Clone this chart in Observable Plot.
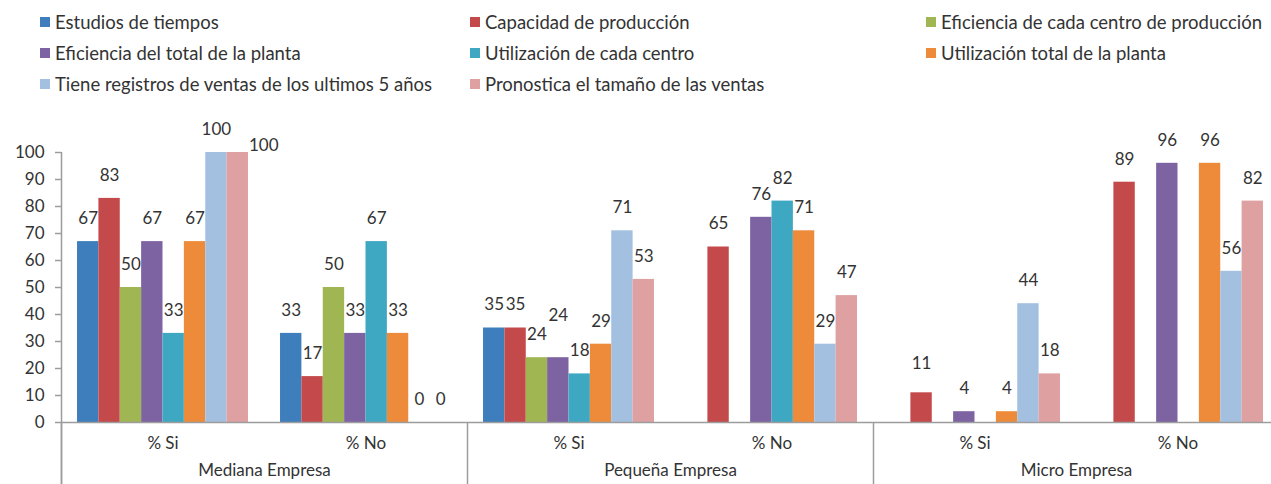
<!DOCTYPE html>
<html>
<head>
<meta charset="utf-8">
<script src="https://cdn.jsdelivr.net/npm/d3@7"></script>
<script src="https://cdn.jsdelivr.net/npm/@observablehq/plot@0.6"></script>
<style>
html, body { margin: 0; padding: 0; background: #fff; overflow: hidden; }
body { width: 1271px; height: 484px; font-family: Lato, sans-serif; }
#legend { position: relative; height: 100px; width: 1271px; }
.item { position: absolute; display: flex; align-items: center; font-size: 18.5px; color: #333; white-space: nowrap; line-height: 22px; transform: translateY(-50%); }
.sw { width: 10px; height: 10px; margin-right: 5px; flex: none; }
</style>
</head>
<body>
<div id="legend"></div>
<div id="chart"></div>
<script>
// ---- data ----
const series = [
  "Estudios de tiempos",
  "Capacidad de producción",
  "Eficiencia de cada centro de producción",
  "Eficiencia del total de la planta",
  "Utilización de cada centro",
  "Utilización total de la planta",
  "Tiene registros de ventas de los ultimos 5 años",
  "Pronostica el tamaño de las ventas"
];
const colors = ["#3e7ebd", "#c4494a", "#a0b653", "#7e63a3", "#3ea7c1", "#ee8b3a", "#a4c0e0", "#dea0a0"];
const empresas = ["Mediana Empresa", "Pequeña Empresa", "Micro Empresa"];
const answers = ["% Si", "% No"];

const medianaSi  = [67, 83, 50, 67, 33, 67, 100, 100];
const medianaNo  = [33, 17, 50, 33, 67, 33, 0, 0];
const pequenaSi  = [35, 35, 24, 24, 18, 29, 71, 53];
const pequenaNo  = [null, 65, null, 76, 82, 71, 29, 47];
const microSi    = [null, 11, null, 4, null, 4, 44, 18];
const microNo    = [null, 89, null, 96, null, 96, 56, 82];

const yTicks = [0, 10, 20, 30, 40, 50, 60, 70, 80, 90, 100];

// ---- build table ----
const clusters = [medianaSi, medianaNo, pequenaSi, pequenaNo, microSi, microNo];
const rows = [];
clusters.forEach((vals, c) => vals.forEach((v, s) => {
  if (v != null) rows.push({c, s, v, series: series[s]});
}));
const clusterLabels = clusters.map((_, c) => ({c, label: answers[c % 2]}));
const groupLabels = empresas.map((name, g) => ({g, name}));

// Excel-style clustered layout: 8 bars + gap of 1.5 bar widths per cluster
const slots = series.length + 1.5;
const bx = d => d.c + (d.s - (series.length - 1) / 2) / slots;
const half = 0.5 / slots;

// label nudges (Excel moved a few labels)
const nudged = [
  {c: 0, s: 7, dx: 26, dy: -7},
  {c: 2, s: 3, dx: 0, dy: -42},
  {c: 4, s: 1, dx: 0, dy: -29}
];
const isNudged = d => nudged.some(n => n.c === d.c && n.s === d.s);

// ---- legend ----
const legend = document.getElementById("legend");
const colX = [40, 470, 926];
const rowY = [22, 53, 84];
series.forEach((name, i) => {
  const el = document.createElement("div");
  el.className = "item";
  el.style.left = colX[i % 3] + "px";
  el.style.top = rowY[Math.floor(i / 3)] + "px";
  el.innerHTML = `<span class="sw" style="background:${colors[i]}"></span><span>${name}</span>`;
  legend.appendChild(el);
});

// ---- chart ----
const axisGray = "#9c9c9c";
const textColor = "#333";
const chart = Plot.plot({
  width: 1271,
  height: 384,
  marginTop: 52,
  marginBottom: 62,
  marginLeft: 61,
  marginRight: -8,
  x: {type: "linear", domain: [-0.5, clusters.length - 0.5], axis: null},
  y: {domain: [0, 100], axis: null},
  color: {domain: series, range: colors},
  style: {fontFamily: "Lato, sans-serif", fontSize: "17px", color: textColor, background: "white", overflow: "visible"},
  marks: [
    Plot.rect(rows, {x1: d => bx(d) - half, x2: d => bx(d) + half, y1: 0, y2: "v", fill: "series"}),
    Plot.ruleY([0], {stroke: axisGray, strokeWidth: 1.5}),
    Plot.ruleX([-0.5], {y1: 100, y2: -23, stroke: axisGray, strokeWidth: 1.5}),
    Plot.ruleX(groupLabels, {x: d => d.g * 2 - 0.5, y1: 0, y2: -23, stroke: axisGray, strokeWidth: 1.5}),
    Plot.axisY({ticks: yTicks, tickSize: 6, tickPadding: 11, stroke: axisGray, strokeWidth: 1.5, fill: textColor, fontSize: 17, label: null}),
    Plot.text(rows.filter(d => !isNudged(d)), {x: bx, y: "v", text: d => String(d.v), dy: -23, lineAnchor: "middle", fill: textColor}),
    ...nudged.map(n => Plot.text(rows.filter(d => d.c === n.c && d.s === n.s), {x: bx, y: "v", text: d => String(d.v), dx: n.dx, dy: n.dy, lineAnchor: "middle", fill: textColor})),
    Plot.text(clusterLabels, {x: "c", y: 0, text: "label", dy: 21, lineAnchor: "middle", fill: textColor}),
    Plot.text(groupLabels, {x: d => d.g * 2 + 0.5, y: 0, text: "name", dy: 48, lineAnchor: "middle", fill: textColor})
  ]
});
document.getElementById("chart").appendChild(chart);
</script>
</body>
</html>
